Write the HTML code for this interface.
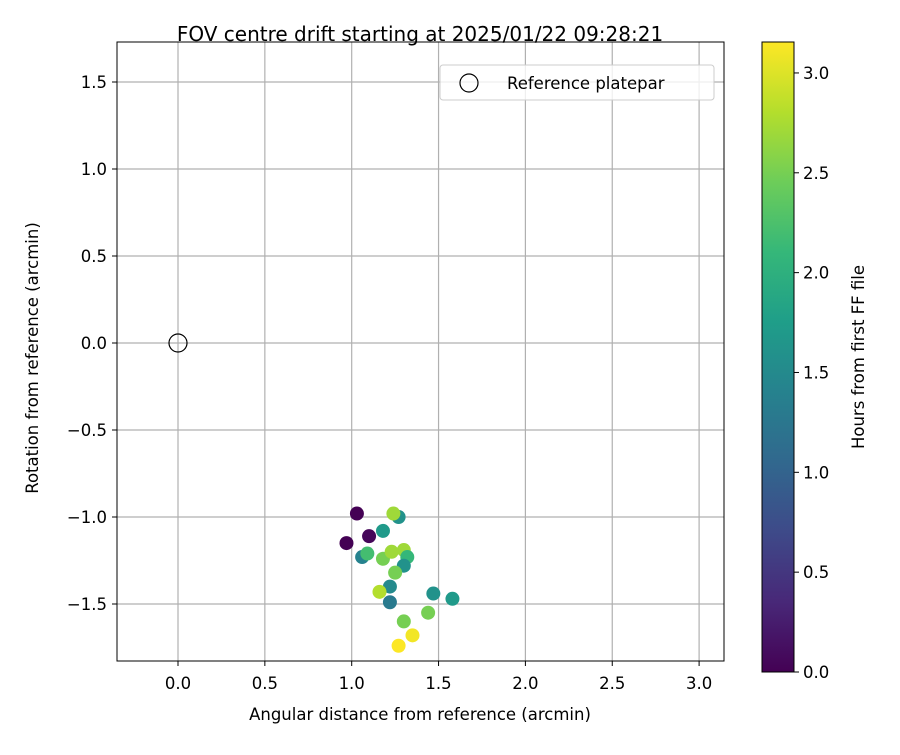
<!DOCTYPE html>
<html><head><meta charset="utf-8"><style>
body{margin:0;background:#fff}
svg{font-family:"DejaVu Sans","Liberation Sans",sans-serif}
</style></head><body>
<svg id="chart" width="900" height="750" viewBox="0 0 900 750" xmlns="http://www.w3.org/2000/svg">
<rect width="900" height="750" fill="#fff"/>
<text x="420" y="41" font-size="20" text-anchor="middle">FOV centre drift starting at 2025/01/22 09:28:21</text>
<g id="grid"></g>
<g id="points"></g>
<rect x="117" y="42" width="607" height="619" fill="none" stroke="#000" stroke-width="1"/>
<g id="xticks"></g><g id="yticks"></g>
<text x="420" y="720" font-size="16.5" text-anchor="middle">Angular distance from reference (arcmin)</text>
<text transform="translate(38,358) rotate(-90)" font-size="16.5" text-anchor="middle">Rotation from reference (arcmin)</text>
<g>
<rect x="440" y="65" width="274" height="35" rx="3" fill="#fff" fill-opacity="0.8" stroke="#ccc"/>
<circle cx="469" cy="83" r="9" fill="none" stroke="#000" stroke-width="1.2"/>
<text x="507" y="89" font-size="16.5">Reference platepar</text>
</g>
<defs><linearGradient id="vir" x1="0" y1="1" x2="0" y2="0"></linearGradient></defs>
<rect x="762" y="42" width="32" height="630" fill="url(#vir)" stroke="#000"/>
<g id="cticks"></g>
<text transform="translate(864,357) rotate(-90)" font-size="16.5" text-anchor="middle">Hours from first FF file</text>
</svg>
<script>
const xs=[1.03,0.97,1.10,1.18,1.27,1.24,1.06,1.09,1.18,1.23,1.30,1.32,1.30,1.25,1.22,1.16,1.22,1.47,1.58,1.44,1.30,1.35,1.27];
const ys=[-0.98,-1.15,-1.11,-1.08,-1.00,-0.98,-1.23,-1.21,-1.24,-1.20,-1.19,-1.23,-1.28,-1.32,-1.40,-1.43,-1.49,-1.44,-1.47,-1.55,-1.60,-1.68,-1.74];
const hours=[0.0,0.0,0.05,1.7,1.6,2.7,1.4,2.2,2.5,2.7,2.7,2.1,1.6,2.5,1.5,2.8,1.3,1.6,1.7,2.5,2.5,3.1,3.15];
const xTicks=[0.0,0.5,1.0,1.5,2.0,2.5,3.0];
const yTicks=[-1.5,-1.0,-0.5,0.0,0.5,1.0,1.5];
const cTicks=[0.0,0.5,1.0,1.5,2.0,2.5,3.0];
const NS="http://www.w3.org/2000/svg";
const X=v=>178+(v)*173.7, Y=v=>343-v*174, C=v=>672-v*(630/3.155);
const vir=[[68,1,84],[72,40,120],[62,74,137],[49,104,142],[38,130,142],[31,158,137],[53,183,121],[109,205,89],[180,222,44],[253,231,37]];
function col(h){let t=Math.max(0,Math.min(1,h/3.155))*(vir.length-1);let i=Math.min(vir.length-2,Math.floor(t)),f=t-i;
 const c=vir[i].map((a,k)=>Math.round(a+(vir[i+1][k]-a)*f));return `rgb(${c})`;}
function mk(tag,attrs,parent){const e=document.createElementNS(NS,tag);for(const k in attrs)e.setAttribute(k,attrs[k]);parent.appendChild(e);return e;}
const fmt=v=>(v<0?"\u2212":"")+Math.abs(v).toFixed(1);
const grid=document.getElementById('grid'),xt=document.getElementById('xticks'),yt=document.getElementById('yticks');
xTicks.forEach(v=>{
 const l=mk('line',{x1:X(v),x2:X(v),y1:42,y2:661,stroke:'#b0b0b0','stroke-width':1.2},grid);
 
 
 mk('line',{x1:X(v),x2:X(v),y1:661,y2:666,stroke:'#000'},xt);
 const t=mk('text',{x:X(v),y:689,'font-size':16.5,'text-anchor':'middle'},xt);t.textContent=fmt(v);
 
 
});
yTicks.forEach(v=>{
 const l=mk('line',{x1:117,x2:724,y1:Y(v),y2:Y(v),stroke:'#b0b0b0','stroke-width':1.2},grid);
 
 
 mk('line',{x1:112,x2:117,y1:Y(v),y2:Y(v),stroke:'#000'},yt);
 const t=mk('text',{x:107,y:Y(v)+6,'font-size':16.5,'text-anchor':'end'},yt);t.textContent=fmt(v);
 
 
});
const pts=document.getElementById('points');
const ref=mk('circle',{cx:X(0),cy:Y(0),r:9,fill:'none',stroke:'#000','stroke-width':1.2},pts);


xs.forEach((x,i)=>{
 const c=mk('circle',{cx:X(x),cy:Y(ys[i]),r:7,fill:col(hours[i])},pts);
 
 
});
const g=document.getElementById('vir');
vir.forEach((c,i)=>mk('stop',{offset:(i/(vir.length-1)),'stop-color':`rgb(${c})`},g));
const ct=document.getElementById('cticks');
cTicks.forEach(v=>{
 mk('line',{x1:794,x2:799,y1:C(v),y2:C(v),stroke:'#000'},ct);
 const t=mk('text',{x:803,y:C(v)+6,'font-size':16.5},ct);t.textContent=v.toFixed(1);
 
 
});
</script>
</body></html>
